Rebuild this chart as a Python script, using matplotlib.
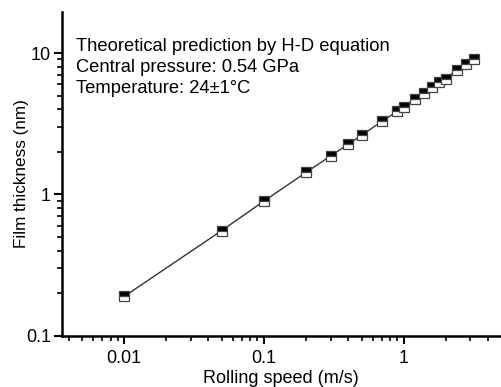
import matplotlib
matplotlib.use("Agg")
import matplotlib.pyplot as plt
from matplotlib.ticker import LogLocator, FixedLocator, FixedFormatter, NullFormatter

plt.rcParams['font.family'] = ['Liberation Sans', 'DejaVu Sans']

speed = [0.01, 0.05, 0.1, 0.2, 0.3, 0.4, 0.5, 0.7, 0.9, 1.0,
         1.2, 1.4, 1.6, 1.8, 2.0, 2.4, 2.8, 3.2]
thickness = [0.19, 0.556, 0.897, 1.43, 1.87, 2.26, 2.62, 3.29, 3.86, 4.14,
             4.72, 5.18, 5.71, 6.2, 6.6, 7.57, 8.36, 9.06]
x_ticks = [0.01, 0.1, 1]
x_ticklabels = ['0.01', '0.1', '1']
y_ticks = [0.1, 1, 10]
y_ticklabels = ['0.1', '1', '10']
annotation = ["Theoretical prediction by H-D equation",
              "Central pressure: 0.54 GPa",
              "Temperature: 24\u00b11\u00b0C"]

fig = plt.figure(figsize=(5.01, 3.87), dpi=100)
ax = fig.add_axes([0.124, 0.132, 0.874, 0.837])

ax.plot(speed, thickness, color='#333333', lw=1.0,
        marker='s', markersize=7, fillstyle='top',
        markerfacecolor='black', markerfacecoloralt='white',
        markeredgecolor='#444444', markeredgewidth=0.9)

ax.set_xscale('log')
ax.set_yscale('log')
ax.set_xlim(0.0036, 4.9)
ax.set_ylim(0.1, 19.5)

ax.xaxis.set_major_locator(FixedLocator(x_ticks))
ax.xaxis.set_major_formatter(FixedFormatter(x_ticklabels))
ax.yaxis.set_major_locator(FixedLocator(y_ticks))
ax.yaxis.set_major_formatter(FixedFormatter(y_ticklabels))
ax.xaxis.set_minor_locator(LogLocator(base=10, subs=range(2, 10), numticks=20))
ax.yaxis.set_minor_locator(LogLocator(base=10, subs=range(2, 10), numticks=20))
ax.xaxis.set_minor_formatter(NullFormatter())
ax.yaxis.set_minor_formatter(NullFormatter())

for s in ['top', 'right']:
    ax.spines[s].set_visible(False)
for s in ['left', 'bottom']:
    ax.spines[s].set_linewidth(1.8)

ax.tick_params(which='major', direction='out', length=6, width=1.5, labelsize=13)
ax.tick_params(axis='x', which='major', pad=4)
ax.tick_params(axis='y', which='major', pad=2)
ax.tick_params(which='minor', direction='out', length=3.5, width=1.2)

ax.set_xlabel('Rolling speed (m/s)', fontsize=13, labelpad=2.5)
ax.set_ylabel('Film thickness (nm)', fontsize=12.3, labelpad=-2)

ax.text(0.032, 0.92, "\n".join(annotation), transform=ax.transAxes,
        fontsize=13.2, va='top', ha='left', linespacing=1.33)

fig.savefig('out.png', dpi=100)
